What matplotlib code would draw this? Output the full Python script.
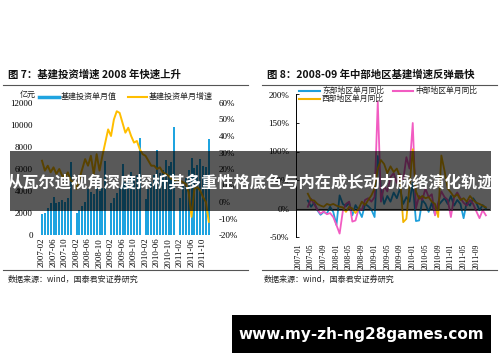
import numpy as np
import matplotlib
matplotlib.use("Agg")
import matplotlib.pyplot as plt
from matplotlib.patches import Rectangle
from matplotlib.lines import Line2D

# ---------------- data ----------------
years = [2007, 2008, 2009, 2010, 2011]
month_labels = [f"{y}-{m:02d}" for y in years for m in range(1, 13)]
nan = np.nan

# Fig 7: monthly infrastructure investment (亿元), January not reported
invest_value = [
    nan, 1900, 2000, 2500, 2900, 3500, 2900, 3000, 3200, 3000, 3400, 6600,
    nan, 2000, 2300, 2600, 3000, 4200, 3900, 3700, 4300, 4000, 4300, 6700,
    nan, 2900, 3400, 3800, 4300, 6500, 4800, 5000, 5700, 5200, 5500, 8800,
    nan, 3300, 4200, 4800, 5500, 7700, 5600, 5900, 6800, 6300, 6600, 9800,
    nan, 3400, 4500, 5200, 5900, 7000, 6100, 6400, 6900, 6300, 6200, 8700,
]
# Fig 7: monthly growth (%)
invest_growth = [
    nan, 25, 19, 22, 18, 21, 17, 20, 16, 15, 18, 13,
    12, 8, 14, 20, 26, 22, 28, 17, 29, 19, 28, 36,
    44, 40, 50, 55, 54, 48, 42, 45, 40, 36, 37, 32,
    29, 28, 25, 22, 22, 20, 21, 18, 17, 16, 14, 13,
    14, 13, 12, 11, 6, -9, 8, 9, 7, 3, 0, -12,
]

# Fig 8: regional YoY (%)
east = [
    nan, nan, nan, 14, 3, 10, -3, -11, -6, -9, 3, -6,
    -29, 23, 8, 4, 10, -12, 6, -3, -15, 8, 4, -2,
    -15, 92, 35, 8, 22, 12, 28, 18, 35, 8, 20, 12,
    45, -22, -21, 15, 8, -6, 10, -11, 5, 12, 18, 8,
    22, 5, 15, 8, -17, 12, 5, 18, 10, -3, 6, 0,
]
central = [
    nan, nan, nan, 3, 17, 8, -2, -9, -5, -10, -8, -15,
    -29, -44, -5, 8, 12, -23, -21, 0, -3, 15, 18, 12,
    20, 188, 12, 40, 30, 55, 62, 45, 60, 50, 90, 70,
    150, 0, 22, 15, 35, 20, 25, -12, 10, 30, 20, 15,
    -15, 20, 28, 18, 10, 5, 15, 8, -5, -17, -3, -12,
]
west = [
    nan, nan, nan, 26, 15, 14, 8, 5, 3, 8, 6, 8,
    5, 3, 2, -6, 3, 0, -8, 0, 12, 6, 15, 23,
    35, 70, 85, 78, 62, 74, 64, 70, 55, -24, -18, 40,
    104, 30, 17, 22, 18, 20, 12, 8, -15, 93, 66, 35,
    28, 20, 25, 15, 18, 12, 22, 15, 10, 8, 5, 2,
]

left_ticks_idx = list(range(1, 60, 4))
right_ticks_idx = list(range(0, 60, 4))

title_left = "图 7：基建投资增速 2008 年快速上升"
title_right = "图 8：2008-09 年中部地区基建增速反弹最快"
legend_left = ["基建投资单月值", "基建投资单月增速"]
legend_right = ["东部地区单月同比", "中部地区单月同比", "西部地区单月同比"]
source = "数据来源：wind，国泰君安证券研究"
banner = "从瓦尔迪视角深度探析其多重性格底色与内在成长动力脉络演化轨迹"
url = "www.my-zh-ng28games.com"

# ---------------- style ----------------
W, H = 500, 362
CJK = ['Noto Sans CJK SC', 'DejaVu Sans']
SERIF = 'Liberation Serif'
BLUE_BAR = '#1FA4E0'
GOLD = '#FFBE00'
BLUE = '#1E9FDB'
PINK = '#F25CC2'
ORANGE = '#F2B400'


def rect(x0, y0, x1, y1):
    return [x0 / W, 1 - y1 / H, (x1 - x0) / W, (y1 - y0) / H]


def fx(x):
    return x / W


def fy(y):
    return 1 - y / H


fig = plt.figure(figsize=(W / 100, H / 100), dpi=100)
fig.patch.set_facecolor('white')

x = np.arange(60)

# ---------------- left chart ----------------
ax1 = fig.add_axes(rect(37.7, 103, 210.2, 235))
ax1.bar(x, invest_value, width=0.7, color=BLUE_BAR, zorder=2)
ax1.set_xlim(-0.5, 59.5)
ax1.set_ylim(0, 12000)
ax1.set_yticks(range(0, 12001, 2000))
ax1.set_yticklabels([str(v) for v in range(0, 12001, 2000)], fontfamily=SERIF, fontsize=6.5)
ax1.tick_params(axis='y', length=0, pad=3.5)
ax1.set_xticks(left_ticks_idx)
ax1.set_xticklabels([month_labels[i] for i in left_ticks_idx], rotation=90,
                    fontfamily=SERIF, fontsize=6.3)
ax1.tick_params(axis='x', length=0, pad=2)
for s in ax1.spines.values():
    s.set_visible(False)
ax1.patch.set_alpha(0)

ax1b = ax1.twinx()
ax1b.plot(x, invest_growth, color=GOLD, lw=1.4, zorder=3)
ax1b.set_ylim(-20, 60)
ax1b.set_yticks(range(-20, 61, 10))
ax1b.set_yticklabels([f"{v}%" for v in range(-20, 61, 10)], fontfamily=SERIF, fontsize=6.5)
ax1b.tick_params(axis='y', length=0, pad=6)
for s in ax1b.spines.values():
    s.set_visible(False)

# ---------------- right chart ----------------
ax2 = fig.add_axes(rect(296, 94.5, 490, 237))
ax2.plot(x, east, color=BLUE, lw=1.3, zorder=3)
ax2.plot(x, central, color=PINK, lw=1.3, zorder=3)
ax2.plot(x, west, color=ORANGE, lw=1.3, zorder=3)
ax2.axhline(0, color='#333333', lw=0.8, zorder=2)
ax2.set_xlim(-0.72, 60.3)
ax2.set_ylim(-50, 200)
ax2.set_yticks(range(-50, 201, 50))
ax2.set_yticklabels([f"{v}%" for v in range(-50, 201, 50)], fontfamily=SERIF, fontsize=6.5)
ax2.tick_params(axis='y', direction='in', length=2.5, width=0.6, pad=5)
ax2.set_xticks(right_ticks_idx)
ax2.set_xticklabels([month_labels[i] for i in right_ticks_idx], rotation=90,
                    fontfamily=SERIF, fontsize=5.6)
ax2.tick_params(axis='x', length=0, pad=4.5)
for k in ['top', 'right', 'bottom']:
    ax2.spines[k].set_visible(False)
ax2.spines['left'].set_linewidth(0.7)
ax2.patch.set_alpha(0)

# ---------------- titles, rules, sources ----------------
fig.text(fx(8), fy(75), title_left, fontfamily=CJK, fontsize=7.5, fontweight='bold',
         va='center', ha='left', color='#111111')
fig.text(fx(267), fy(75), title_right, fontfamily=CJK, fontsize=7.5, fontweight='bold',
         va='center', ha='left', color='#111111')
for (a, b) in [(3, 248), (262, 497)]:
    fig.add_artist(Line2D([fx(a), fx(b)], [fy(85), fy(85)], color='#555555', lw=0.8))
    fig.add_artist(Line2D([fx(a), fx(b)], [fy(270), fy(270)], color='#555555', lw=0.8))
fig.text(fx(8), fy(279), source, fontfamily=CJK, fontsize=5.8, va='center', ha='left', color='#222222')
fig.text(fx(264), fy(279), source, fontfamily=CJK, fontsize=5.8, va='center', ha='left', color='#222222')

# left legend & unit
fig.text(fx(20), fy(94), "亿元", fontfamily=CJK, fontsize=5.8, va='center', ha='left', color='#222222')
fig.add_artist(Line2D([fx(39), fx(59)], [fy(96.5), fy(96.5)], color=BLUE_BAR, lw=2.5))
fig.text(fx(61), fy(96.5), legend_left[0], fontfamily=CJK, fontsize=5.8, va='center', ha='left', color='#222222')
fig.add_artist(Line2D([fx(128), fx(147)], [fy(96.5), fy(96.5)], color=GOLD, lw=1.5))
fig.text(fx(149), fy(96.5), legend_left[1], fontfamily=CJK, fontsize=5.8, va='center', ha='left', color='#222222')

# right legend
fig.add_artist(Line2D([fx(299), fx(320)], [fy(90.5), fy(90.5)], color=BLUE, lw=1.5))
fig.text(fx(322), fy(90.5), legend_right[0], fontfamily=CJK, fontsize=5.6, va='center', ha='left', color='#222222')
fig.add_artist(Line2D([fx(393), fx(413)], [fy(90.5), fy(90.5)], color=PINK, lw=1.5))
fig.text(fx(415), fy(90.5), legend_right[1], fontfamily=CJK, fontsize=5.6, va='center', ha='left', color='#222222')
fig.add_artist(Line2D([fx(299), fx(320)], [fy(98.5), fy(98.5)], color=ORANGE, lw=1.5))
fig.text(fx(322), fy(98.5), legend_right[2], fontfamily=CJK, fontsize=5.6, va='center', ha='left', color='#222222')

# ---------------- overlays ----------------
r = Rectangle((fx(10), fy(211)), fx(491) - fx(10), fy(151) - fy(211), transform=fig.transFigure,
              facecolor='black', alpha=0.65, edgecolor='none', zorder=10)
fig.add_artist(r)
fig.text(fx(250), fy(183), banner, fontfamily=CJK, fontsize=11.7, fontweight='bold',
         color='white', ha='center', va='center', zorder=11)

r2 = Rectangle((fx(232), fy(353)), fx(491) - fx(232), fy(315) - fy(353), transform=fig.transFigure,
               facecolor='black', edgecolor='none', zorder=10)
fig.add_artist(r2)
fig.text(fx(361), fy(334), url, fontfamily='DejaVu Sans', fontsize=11, fontweight='bold',
         color='white', ha='center', va='center', zorder=11)

fig.savefig('out.png', dpi=100, facecolor='white')
